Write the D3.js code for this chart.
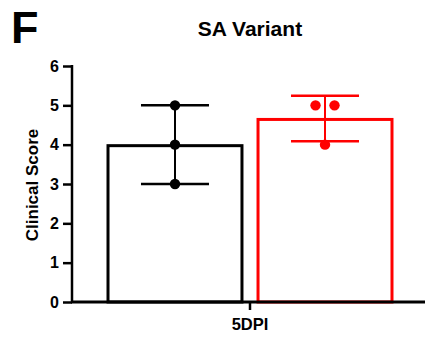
<!DOCTYPE html>
<html><head><meta charset="utf-8">
<script src="https://cdn.jsdelivr.net/npm/d3@7"></script>
<style>
html,body{margin:0;padding:0;background:#fff;}
text{font-family:"Liberation Sans",Arial,sans-serif;font-weight:bold;fill:#000;}
</style></head>
<body>
<svg id="chart" width="425" height="338"></svg>
<script>
const categories = ["5DPI"];
const seriesNames = ["Mock", "SA Variant"];
const seriesColors = ["#000000", "#ff0000"];
const mockValues = [5, 4, 3];
const variantValues = [5, 5, 4];
const yTicks = [0, 1, 2, 3, 4, 5, 6];
const titleText = "SA Variant";
const panelLabel = "F";
const yLabel = "Clinical Score";

const groups = [mockValues, variantValues];

const svg = d3.select("#chart");
const y = d3.scaleLinear().domain([0, 6]).range([302, 66]);
const x0 = d3.scaleBand().domain(categories).range([72, 428]);
const x1 = d3.scaleBand().domain(seriesNames).range([0, x0.bandwidth()])
  .paddingInner(0.107).paddingOuter(0.24);

// panel label & title
svg.append("text").attr("x", 11).attr("y", 43).attr("font-size", 45).text(panelLabel);
svg.append("text").attr("x", 250).attr("y", 36).attr("text-anchor", "middle")
  .attr("font-size", 21).text(titleText);

// bars
const g = svg.append("g");
categories.forEach(cat => {
  seriesNames.forEach((s, i) => {
    const vals = groups[i];
    const mean = d3.mean(vals);
    const sd = d3.deviation(vals);
    const bx = x0(cat) + x1(s);
    const bw = x1.bandwidth();
    const cx = bx + bw / 2;
    const col = seriesColors[i];
    g.append("rect").attr("x", bx).attr("y", y(mean) + 1)
      .attr("width", bw).attr("height", y(0) - y(mean) - 1)
      .attr("fill", "#fff").attr("stroke", col).attr("stroke-width", 3);
    // error bar
    const capW = 34;
    g.append("line").attr("x1", cx).attr("x2", cx).attr("y1", y(mean - sd)).attr("y2", y(mean + sd))
      .attr("stroke", col).attr("stroke-width", 2);
    [mean - sd, mean + sd].forEach(v => {
      g.append("line").attr("x1", cx - capW).attr("x2", cx + capW).attr("y1", y(v)).attr("y2", y(v))
        .attr("stroke", col).attr("stroke-width", 2.5);
    });
    // points, spread horizontally when equal
    const counts = d3.rollup(vals, v => v.length, d => d);
    const seen = new Map();
    vals.forEach(v => {
      const n = counts.get(v);
      const k = seen.get(v) || 0;
      seen.set(v, k + 1);
      const off = (k - (n - 1) / 2) * 19;
      g.append("circle").attr("cx", cx + off).attr("cy", y(v)).attr("r", 5.2).attr("fill", col);
    });
  });
});

// y axis
const yAxis = svg.append("g").attr("transform", "translate(72,0)")
  .call(d3.axisLeft(y).tickValues(yTicks).tickFormat(d3.format("d")).tickSize(9).tickPadding(4));
yAxis.select(".domain").attr("stroke", "#000").attr("stroke-width", 2.5).attr("d", "M0,65V303");
yAxis.selectAll(".tick line").attr("stroke", "#000").attr("stroke-width", 2.5);
yAxis.selectAll(".tick text").attr("font-size", 16).attr("font-family", "Liberation Sans, Arial, sans-serif")
  .attr("font-weight", "bold").attr("fill", "#000");

// x axis
const xAxis = svg.append("g").attr("transform", "translate(0,302)")
  .call(d3.axisBottom(x0).tickSize(8).tickPadding(8));
xAxis.select(".domain").attr("stroke", "#000").attr("stroke-width", 3).attr("d", "M71,0H425");
xAxis.selectAll(".tick line").attr("stroke", "#000").attr("stroke-width", 2.5);
xAxis.selectAll(".tick text").attr("font-size", 16.5).attr("font-family", "Liberation Sans, Arial, sans-serif")
  .attr("font-weight", "bold").attr("fill", "#000");

// y label
svg.append("text").attr("transform", "translate(38,185) rotate(-90)")
  .attr("text-anchor", "middle").attr("font-size", 17).text(yLabel);
</script>
</body></html>
